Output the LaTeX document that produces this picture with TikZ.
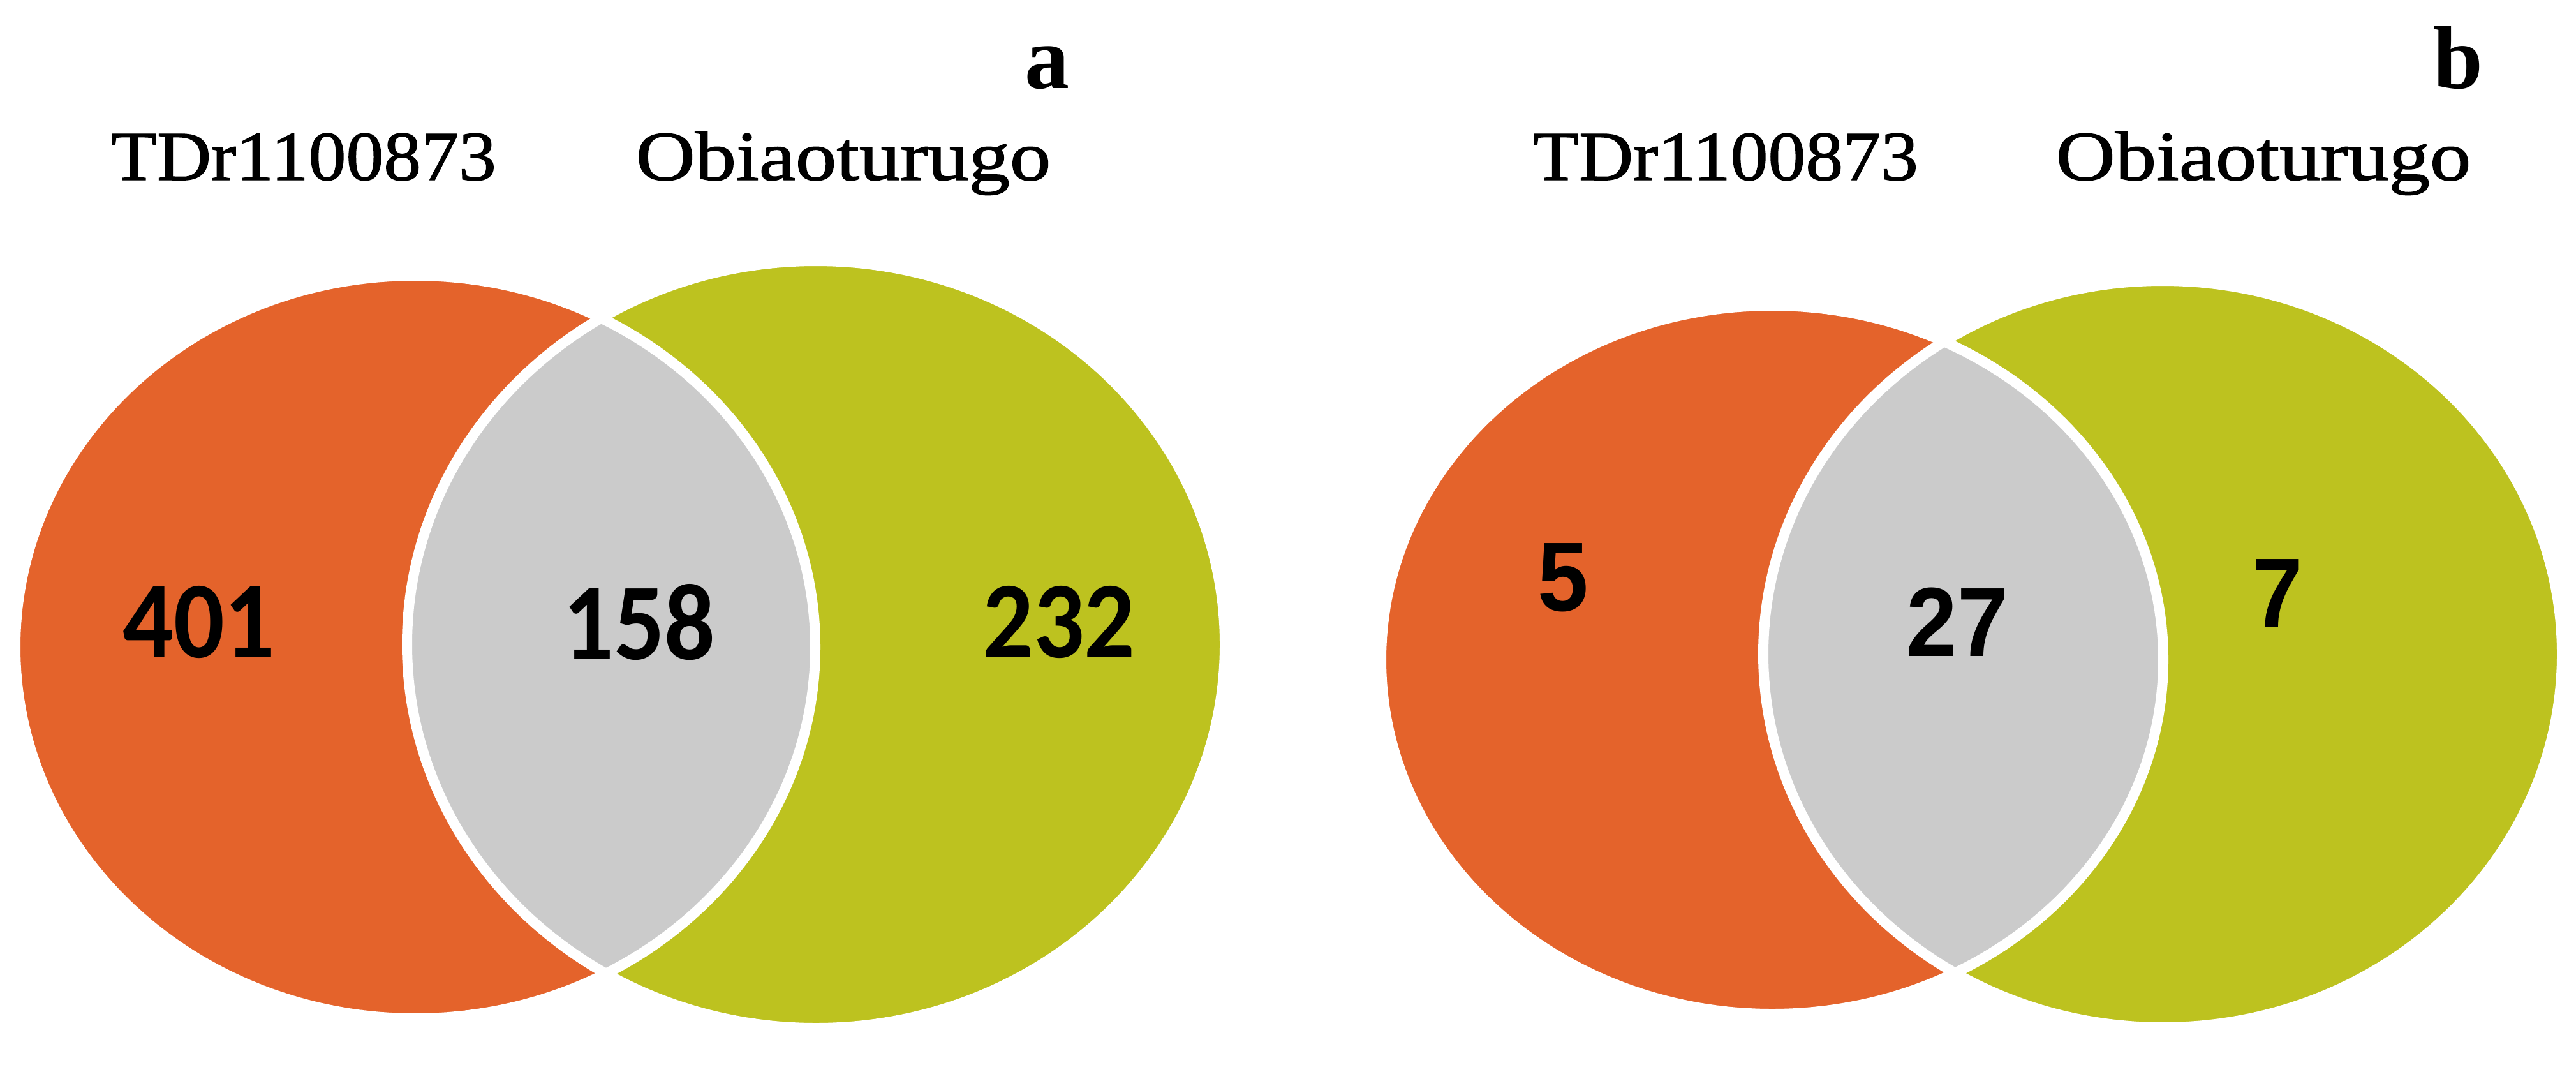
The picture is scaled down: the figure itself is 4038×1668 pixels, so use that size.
\documentclass[tikz,border=0pt]{standalone}
\usepackage{fontspec}
\setmainfont{Liberation Serif}
\newfontfamily\labelfont{Liberation Serif}[FakeBold=1.2]
\newfontfamily\calfont{Carlito}
\newfontfamily\arialfont{Liberation Sans}
\definecolor{vorange}{HTML}{E4632B}
\definecolor{vgreen}{HTML}{BDC21F}
\definecolor{vgray}{HTML}{CBCBCB}
\begin{document}
\begin{tikzpicture}[x=1pt,y=-1pt,
  setlabel/.style={font=\labelfont\fontsize{110}{120}\selectfont, inner sep=0pt, anchor=base},
  panellabel/.style={font=\bfseries\fontsize{140}{150}\selectfont, inner sep=0pt, anchor=base},
  numa/.style={font=\calfont\bfseries\fontsize{171}{180}\selectfont, inner sep=0pt, xscale=0.92},
  numb/.style={font=\arialfont\bfseries\fontsize{154}{160}\selectfont, inner sep=0pt, xscale=0.93},
  sepline/.style={draw=white, line width=16pt}]
\useasboundingbox[fill=white] (0,0) rectangle (4038,1668);

% ---------- panel a ----------
\fill[vorange] (651,1014) ellipse [x radius=627pt, y radius=582pt];
\fill[vgreen] (1279,1010) ellipse [x radius=641pt, y radius=601pt];
\begin{scope}
  \clip (651,1014) ellipse [x radius=627pt, y radius=582pt];
  \fill[vgray] (1279,1010) ellipse [x radius=641pt, y radius=601pt];
\end{scope}
\draw[sepline] (651,1014) ellipse [x radius=627pt, y radius=582pt];
\draw[sepline] (1279,1010) ellipse [x radius=641pt, y radius=601pt];

\node[numa] (a401) at (312,975) {401};
\node[numa] (a158) at (1002,975) {158};
\node[numa] (a232) at (1660,975) {232};

\node[setlabel, xscale=1.07] (aTD) at (476,282) {TDr1100873};
\node[setlabel, xscale=1.17] (aOb) at (1322,282) {Obiaoturugo};
\node[panellabel] (alab) at (1641,138) {a};

% ---------- panel b ----------
\fill[vorange] (2778,1034) ellipse [x radius=613pt, y radius=555pt];
\fill[vgreen] (3390,1025) ellipse [x radius=626pt, y radius=585pt];
\begin{scope}
  \clip (2778,1034) ellipse [x radius=613pt, y radius=555pt];
  \fill[vgray] (3390,1025) ellipse [x radius=626pt, y radius=585pt];
\end{scope}
\draw[sepline] (2778,1034) ellipse [x radius=613pt, y radius=555pt];
\draw[sepline] (3390,1025) ellipse [x radius=626pt, y radius=585pt];

\node[numb] (b5) at (2450,905) {5};
\node[numb] (b27) at (3068,975) {27};
\node[numb] (b7) at (3570,930) {7};

\node[setlabel, xscale=1.07] (bTD) at (2705,282) {TDr1100873};
\node[setlabel, xscale=1.17] (bOb) at (3548,282) {Obiaoturugo};
\node[panellabel] (blab) at (3853,138) {b};
\end{tikzpicture}
\end{document}
